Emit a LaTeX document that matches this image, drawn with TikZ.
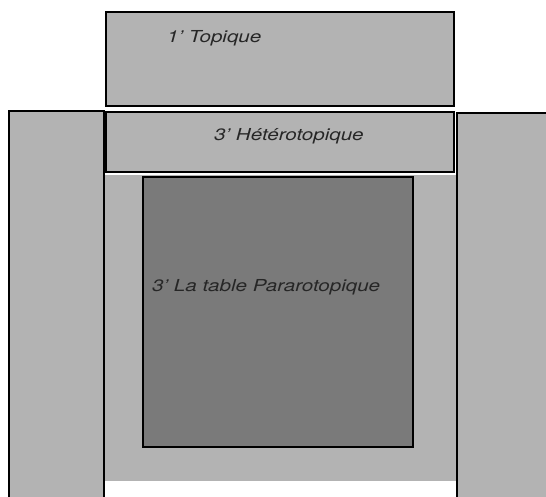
\documentclass[tikz,border=0pt]{standalone}
\usepackage{fontspec}
\setsansfont[FakeStretch=1.25]{TeX Gyre Heros}
\definecolor{zonegray}{HTML}{B3B3B3}
\definecolor{tablegray}{HTML}{7A7A7A}
\tikzstyle{zone} = [rectangle,
inner sep=0pt,
outer sep=0pt,
draw=black,
line width=2pt,
fill=zonegray]
\tikzstyle{floor} = [rectangle,
inner sep=0pt,
outer sep=0pt,
fill=zonegray]
\tikzstyle{table} = [zone, fill=tablegray]
\tikzstyle{caption} = [anchor=base west,
inner sep=0pt,
text=black!85,
font=\sffamily\itshape\fontsize{16.5}{20}\selectfont]

\begin{document}
\begin{tikzpicture}[x=1pt, y=-1pt]
			\useasboundingbox (0,0) rectangle (546,497);
			\clip (0,0) rectangle (546,497);
			% the room, walls and zones
			\node (floor) [floor, minimum width=353pt, minimum height=306pt] at (280.5,328) {};
			\node (leftwall) [zone, minimum width=95pt, minimum height=399pt] at (56.5,310.5) {};
			\node (rightwall) [zone, minimum width=99pt, minimum height=397pt] at (506.5,311.5) {};
			\node (topique) [zone, minimum width=348pt, minimum height=94pt] at (280,59) {};
			\node (hetero) [zone, minimum width=348pt, minimum height=60pt] at (280,142) {};
			\node (para) [table, minimum width=270pt, minimum height=270pt] at (278,312) {};

			% labels
			\node (topiquetext) [caption] at (167,43) {1’ Topique};
			\node (heterotext) [caption] at (214,141) {3’ Hétérotopique};
			\node (paratext) [caption] at (152,291) {3’ La table Pararotopique};
		\end{tikzpicture}
\end{document}
